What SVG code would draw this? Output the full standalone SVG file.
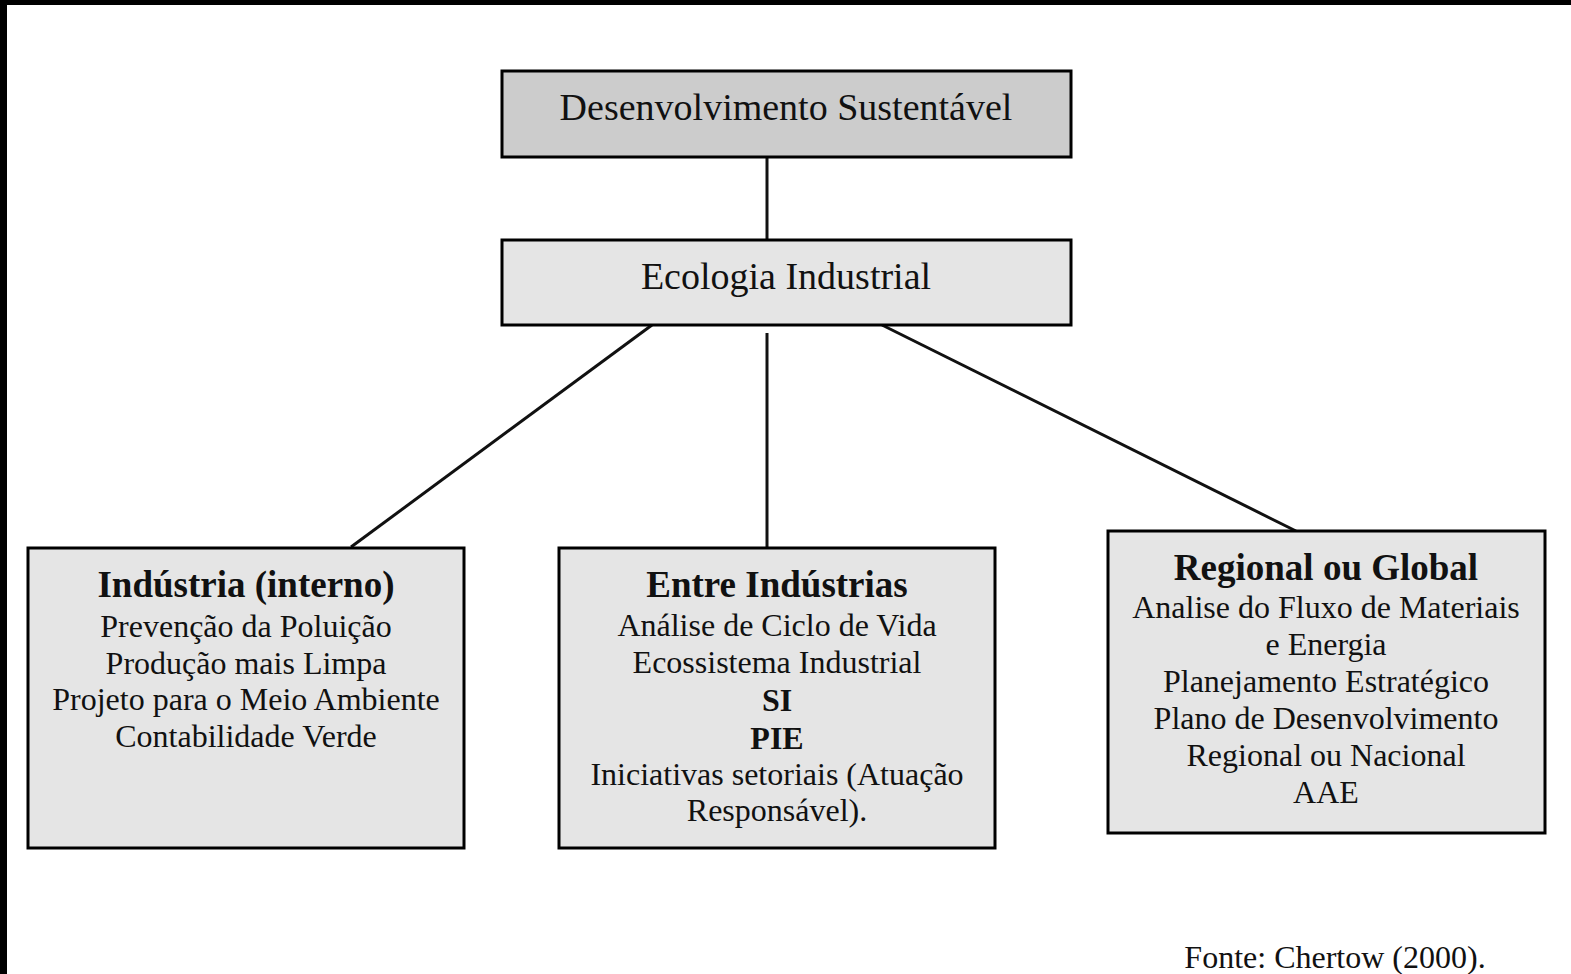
<svg xmlns="http://www.w3.org/2000/svg" width="1571" height="974" viewBox="0 0 1571 974">
<style>
.box{stroke:#000;stroke-width:3}
.dark{fill:#cccccc}
.light{fill:#e5e5e5}
.t{font-family:"Liberation Serif","Times New Roman",serif;fill:#111;text-anchor:middle}
.big{font-size:38px}
.hd{font-size:37px;font-weight:bold}
.bd{font-size:32px}
.bb{font-size:32px;font-weight:bold}
.ln{stroke:#111;stroke-width:3;fill:none}
</style>
<rect x="0" y="0" width="1571" height="974" fill="#fff"/>
<rect x="0" y="0" width="1571" height="5" fill="#000"/>
<rect x="0" y="0" width="7" height="974" fill="#000"/>
<g id="connectors">
<line class="ln" x1="767" y1="157" x2="767" y2="240"/>
<line class="ln" x1="652" y1="325" x2="351" y2="547"/>
<line class="ln" x1="767" y1="333" x2="767" y2="547"/>
<line class="ln" x1="882" y1="325" x2="1296" y2="531"/>
</g>
<g id="desenvolvimento">
<rect class="box dark" x="502" y="71" width="569" height="86"/>
<text class="t big" x="786" y="120">Desenvolvimento Sustentável</text>
</g>
<g id="ecologia">
<rect class="box light" x="502" y="240" width="569" height="85"/>
<text class="t big" x="786" y="289">Ecologia Industrial</text>
</g>
<g id="industria">
<rect class="box light" x="28" y="548" width="436" height="300"/>
<text class="t hd" x="246" y="597">Indústria (interno)</text>
<text class="t bd" x="246" y="637">Prevenção da Poluição</text>
<text class="t bd" x="246" y="674">Produção mais Limpa</text>
<text class="t bd" x="246" y="710">Projeto para o Meio Ambiente</text>
<text class="t bd" x="246" y="747">Contabilidade Verde</text>
</g>
<g id="entre">
<rect class="box light" x="559" y="548" width="436" height="300"/>
<text class="t hd" x="777" y="597">Entre Indústrias</text>
<text class="t bd" x="777" y="636">Análise de Ciclo de Vida</text>
<text class="t bd" x="777" y="673">Ecossistema Industrial</text>
<text class="t bb" x="777" y="711">SI</text>
<text class="t bb" x="777" y="749">PIE</text>
<text class="t bd" x="777" y="785">Iniciativas setoriais (Atuação</text>
<text class="t bd" x="777" y="821">Responsável).</text>
</g>
<g id="regional">
<rect class="box light" x="1108" y="531" width="437" height="302"/>
<text class="t hd" x="1326" y="580">Regional ou Global</text>
<text class="t bd" x="1326" y="618">Analise do Fluxo de Materiais</text>
<text class="t bd" x="1326" y="655">e Energia</text>
<text class="t bd" x="1326" y="692">Planejamento Estratégico</text>
<text class="t bd" x="1326" y="729">Plano de Desenvolvimento</text>
<text class="t bd" x="1326" y="766">Regional ou Nacional</text>
<text class="t bd" x="1326" y="803">AAE</text>
</g>
<text class="t bd" x="1335" y="968">Fonte: Chertow (2000).</text>
</svg>
